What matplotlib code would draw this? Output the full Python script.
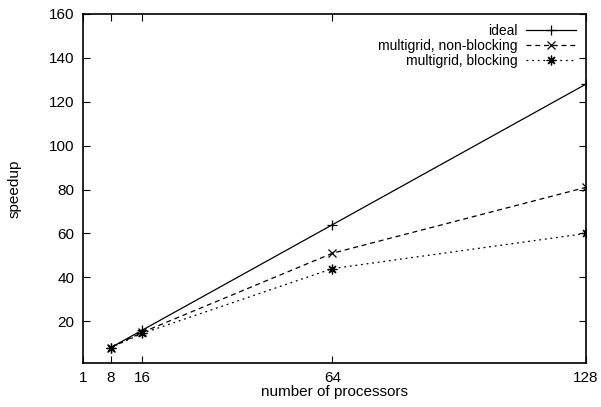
import matplotlib
matplotlib.use('Agg')
import matplotlib.pyplot as plt

plt.rcParams['font.family'] = ['Liberation Sans', 'DejaVu Sans']

# data
procs = [8, 16, 64, 128]
ideal = [8, 16, 64, 128]
nonblocking = [8, 15, 51, 81]
blocking = [8, 14.5, 44, 60]
xticks = [1, 8, 16, 64, 128]
yticks = [20, 40, 60, 80, 100, 120, 140, 160]

fig = plt.figure(figsize=(6.01, 4.07), dpi=100)
ax = fig.add_axes([0.138, 0.108, 0.837, 0.858])

ax.plot(procs, ideal, color='black', lw=0.9, marker='+', ms=7, mew=0.9,
        label='ideal')
ax.plot(procs, nonblocking, color='black', lw=0.9, ls=(0, (4, 3)),
        marker='x', ms=6, mew=0.9, label='multigrid, non-blocking')
ax.plot(procs, blocking, color='black', lw=0.9, ls=(0, (1.5, 3)),
        marker=(8, 2, 0), ms=7, mew=0.9, label='multigrid, blocking')

ax.set_xlim(1, 128)
ax.set_ylim(1, 160)
ax.set_xticks(xticks)
ax.set_yticks(yticks)
ax.tick_params(direction='in', top=True, right=True, length=5, width=0.8,
               labelsize=11, pad=6)
for s in ax.spines.values():
    s.set_linewidth(1.2)

ax.set_xlabel('number of processors', fontsize=11, labelpad=0)
ax.set_ylabel('speedup', fontsize=11, labelpad=20)

ax.legend(loc='upper right', frameon=False, markerfirst=False, fontsize=10,
          handlelength=3.6, handletextpad=0.6, labelspacing=0.05,
          borderaxespad=0.35)

fig.savefig('out.png', dpi=100)
